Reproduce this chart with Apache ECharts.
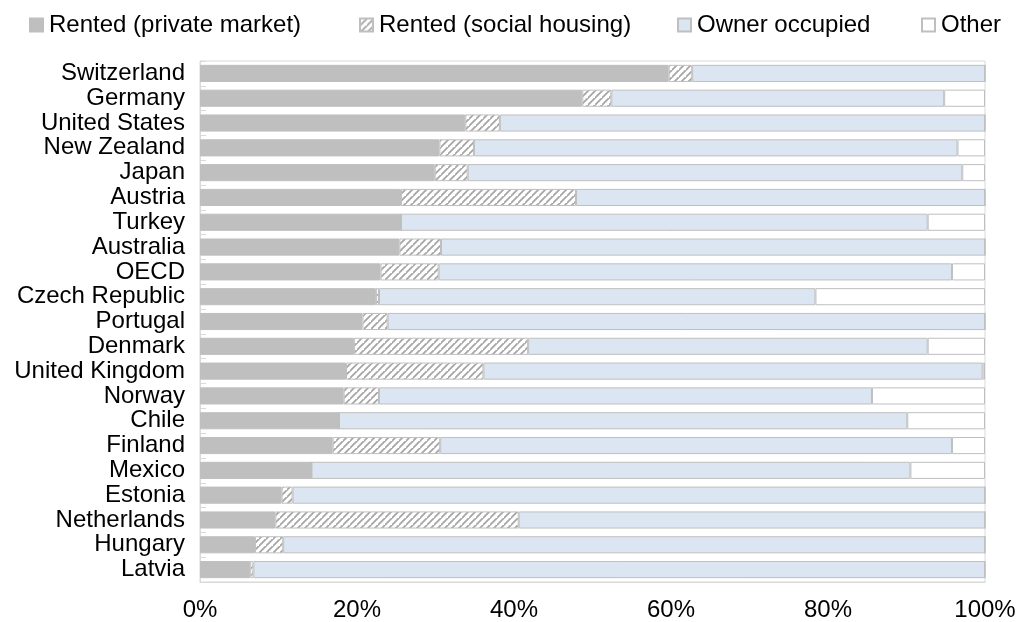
<!DOCTYPE html>
<html>
<head>
<meta charset="utf-8">
<script src="https://cdn.jsdelivr.net/npm/echarts@6/dist/echarts.min.js"></script>
<style>
html,body{margin:0;padding:0;background:#fff;}
#chart{width:1019px;height:622px;}
</style>
</head>
<body>
<div id="chart"></div>
<script>
const categories = ["Switzerland","Germany","United States","New Zealand","Japan","Austria","Turkey","Australia","OECD","Czech Republic","Portugal","Denmark","United Kingdom","Norway","Chile","Finland","Mexico","Estonia","Netherlands","Hungary","Latvia"];
const rentedPrivate = [59.7,48.7,33.8,30.5,29.9,25.6,25.6,25.4,23.0,22.4,20.7,19.6,18.6,18.3,17.7,16.9,14.2,10.4,9.6,7.0,6.4];
const rentedSocial  = [3.0,3.7,4.4,4.4,4.2,22.3,0,5.3,7.4,0.4,3.2,22.2,17.5,4.5,0,13.7,0,1.4,31.0,3.6,0.4];
const ownerOccupied = [37.3,42.4,61.8,61.6,63.0,52.1,67.1,69.3,65.4,55.6,76.1,50.9,63.6,62.8,72.4,65.2,76.3,88.2,59.4,89.4,93.2];
const other         = [0,5.2,0,3.5,2.9,0,7.3,0,4.2,21.6,0,7.3,0.3,14.4,9.9,4.2,9.5,0,0,0,0];
const seriesNames = ["Rented (private market)","Rented (social housing)","Owner occupied","Other"];
const xTicks = [0,20,40,60,80,100];

// hatch pattern
const pc = document.createElement('canvas');
const S = 7;
pc.width = S; pc.height = S;
const g = pc.getContext('2d');
g.fillStyle = '#ffffff';
g.fillRect(0,0,S,S);
g.strokeStyle = '#a6a6a6';
g.lineWidth = 1.8;
g.beginPath();
g.moveTo(-1, S+1); g.lineTo(S+1, -1);
g.moveTo(-1-S, S+1); g.lineTo(1, -1);
g.moveTo(S-1, 2*S+1); g.lineTo(2*S+1, S-1);
g.stroke();

const font = "'Liberation Sans', Arial, sans-serif";
const border = '#bfbfbf';
const fills = ['#bfbfbf', {image: pc, repeat: 'repeat'}, '#dce6f2', '#ffffff'];
const dataSets = [rentedPrivate, rentedSocial, ownerOccupied, other];
const legendLefts = [29, 359, 677, 921];

const chart = echarts.init(document.getElementById('chart'), null, {renderer: 'canvas'});
chart.setOption({
  animation: false,
  backgroundColor: '#ffffff',
  legend: seriesNames.map((n, i) => ({
    left: legendLefts[i], top: 13, padding: 0,
    icon: 'rect',
    itemWidth: 13, itemHeight: 13,
    textStyle: {fontFamily: font, fontSize: 24, color: '#000', padding: [0,0,0,1]},
    data: [n]
  })),
  grid: {left: 200, right: 34, top: 61, bottom: 39, show: true, borderColor: '#d9d9d9', borderWidth: 1, containLabel: false},
  xAxis: {
    type: 'value', min: 0, max: 100, interval: 20,
    axisLine: {show: true, lineStyle: {color: '#d9d9d9'}},
    axisTick: {show: false},
    splitLine: {show: false},
    axisLabel: {formatter: v => xTicks.includes(v) ? v + '%' : '', fontFamily: font, fontSize: 24, color: '#000', margin: 16}
  },
  yAxis: {
    type: 'category', data: categories, inverse: true,
    axisLine: {show: true, lineStyle: {color: '#d9d9d9'}},
    axisTick: {show: true, inside: true, length: 6, lineStyle: {color: '#d9d9d9'}},
    axisLabel: {interval: 0, fontFamily: font, fontSize: 24, color: '#000', margin: 15}
  },
  series: seriesNames.map((n, i) => ({
    name: n, type: 'bar', stack: 'total', barCategoryGap: '31%',
    data: dataSets[i],
    itemStyle: {color: fills[i], borderColor: border, borderWidth: 1},
    emphasis: {disabled: true}
  }))
});
</script>
</body>
</html>
